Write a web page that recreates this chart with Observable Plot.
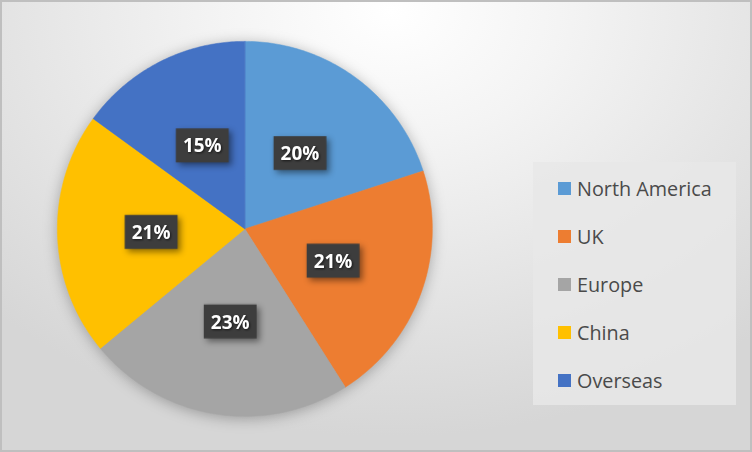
<!DOCTYPE html>
<html>
<head>
<meta charset="utf-8">
<script src="https://cdn.jsdelivr.net/npm/d3@7"></script>
<script src="https://cdn.jsdelivr.net/npm/@observablehq/plot@0.6"></script>
<style>
  html, body { margin: 0; padding: 0; }
  #frame {
    position: relative; width: 752px; height: 452px; box-sizing: border-box;
    border: 2px solid #bfbfbf;
    background: radial-gradient(ellipse 75% 95% at 52% 2%, #ffffff 0%, #f4f4f4 30%, #e3e3e3 70%, #d6d6d6 100%);
    overflow: hidden;
  }
  #chart { position: absolute; left: -2px; top: -2px; }
  #legend {
    position: absolute; left: 531px; top: 160px; width: 203px; height: 243px;
    background: rgba(232,232,232,0.85);
    font-family: "Open Sans", sans-serif; font-size: 19.8px; color: #4a4a4a;
  }
  .item { position: absolute; left: 25px; display: flex; align-items: center; height: 24px; }
  .sw { width: 13px; height: 13px; margin-right: 6px; }
</style>
</head>
<body>
<div id="frame">
  <div id="chart"></div>
  <div id="legend"></div>
</div>
<script>
const regions = ["North America", "UK", "Europe", "China", "Overseas"];
const shares = [20, 21, 23, 21, 15];
const colors = ["#5b9bd5", "#ed7d31", "#a5a5a5", "#ffc000", "#4472c4"];

const data = regions.map((region, i) => ({region, share: shares[i]}));
const arcs = d3.pie().sort(null).value(d => d.share)(data);

// slice outlines sampled from the pie angles (angle 0 at top, clockwise)
const slicePts = [];
for (const a of arcs) {
  slicePts.push({region: a.data.region, x: 0, y: 0});
  const n = 80;
  for (let k = 0; k <= n; k++) {
    const t = a.startAngle + (a.endAngle - a.startAngle) * k / n;
    slicePts.push({region: a.data.region, x: Math.sin(t), y: Math.cos(t)});
  }
}
const labels = arcs.map(a => {
  const m = (a.startAngle + a.endAngle) / 2;
  return {region: a.data.region, label: a.data.share + "%", x: 0.5 * Math.sin(m), y: 0.5 * Math.cos(m)};
});

const box = { draw(ctx) { ctx.rect(-26.5, -17, 53, 34); } };

const plot = Plot.plot({
  width: 752, height: 452,
  marginLeft: 57, marginRight: 319, marginTop: 41, marginBottom: 35,
  x: {domain: [-1, 1], axis: null},
  y: {domain: [-1, 1], axis: null},
  color: {domain: regions, range: colors},
  style: {background: "transparent", overflow: "visible"},
  marks: [
    Plot.line(slicePts, {x: "x", y: "y", z: "region", fill: "region", stroke: "region", strokeWidth: 0.5, curve: "linear-closed"}),
    Plot.dot(labels, {x: "x", y: "y", symbol: box, r: 10, fill: "#3d3d3d", stroke: "none"}),
    Plot.text(labels, {x: "x", y: "y", text: "label", fill: "white", fontSize: 19, fontWeight: "bold", fontFamily: "Open Sans, sans-serif", dy: 1})
  ]
});
document.getElementById("chart").appendChild(plot);
const svg = d3.select(plot);
svg.select('g[aria-label="line"]').style("filter", "drop-shadow(0px 2px 7px rgba(0,0,0,0.28))");
svg.select('g[aria-label="dot"]').style("filter", "drop-shadow(3px 3px 3px rgba(0,0,0,0.45))");
svg.select('g[aria-label="text"]').style("filter", "drop-shadow(1px 1px 1px rgba(0,0,0,0.6))");

const legend = document.getElementById("legend");
regions.forEach((r, i) => {
  const it = document.createElement("div");
  it.className = "item";
  it.style.top = (14 + i * 48.2) + "px";
  it.innerHTML = `<span class="sw" style="background:${colors[i]}"></span><span>${r}</span>`;
  legend.appendChild(it);
});
</script>
</body>
</html>
